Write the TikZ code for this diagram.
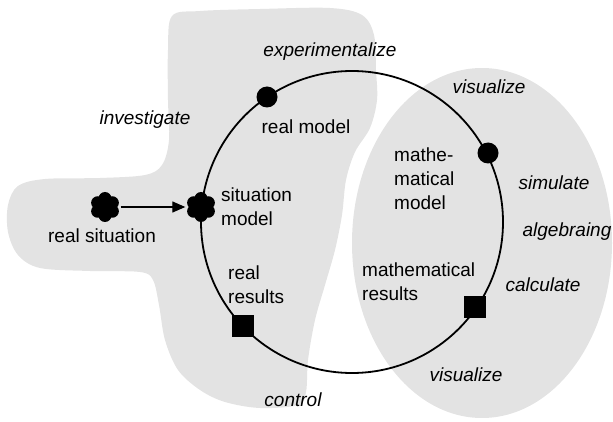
\documentclass[tikz,border=0pt]{standalone}
\usepackage{fontspec}
\setmainfont{Liberation Sans}
\usetikzlibrary{arrows.meta}
\definecolor{blobgray}{gray}{0.89}

\begin{document}
\begin{tikzpicture}[x=1pt,y=-1pt,
  lbl/.style={font=\fontsize{19}{24}\selectfont,inner sep=0pt,align=left},
  act/.style={font=\fontsize{19}{24}\selectfont\itshape,inner sep=0pt},
  mdot/.style={circle,fill=black,minimum size=21pt,inner sep=0pt},
  msquare/.style={rectangle,fill=black,minimum size=22pt,inner sep=0pt},
  flower/.style={circle,minimum size=31pt,inner sep=0pt,
    path picture={\foreach \a in {30,90,...,330}
        \fill (path picture bounding box.center) ++(\a:8.5) circle (6.5);
      \fill (path picture bounding box.center) circle (9.5);}}]
  \useasboundingbox (0,0) rectangle (613,422);
  % grey areas
  \fill[blobgray] plot[smooth cycle,tension=0.55] coordinates {
    (172,16) (200,11) (260,9) (330,8) (362,15) (374,35) (376,70) (377,100)
    (370,128) (355,152) (346,180) (342,215) (335,250) (325,285) (315,320)
    (308,360) (306,392) (298,405) (260,408) (225,402) (200,390) (178,370)
    (165,340) (159,305) (153,280) (140,272) (90,271) (40,268) (18,255)
    (8,232) (8,205) (18,186) (45,179) (100,178) (145,175) (162,165)
    (169,140) (168,100) (168,50)};
  \fill[blobgray] (482,243) ellipse [x radius=130,y radius=175];
  % the cycle
  \draw[line width=1.8pt] (352,222) circle [radius=151];
  \node[flower] (realsit) at (105,207) {};
  \node[flower] (sitmodel) at (201,207) {};
  \node[mdot] (realmodel) at (267,97) {};
  \node[mdot] (mathmodel) at (488,153) {};
  \node[msquare] (mathres) at (475,307) {};
  \node[msquare] (realres) at (243,326) {};
  \draw[line width=1.3pt,-{Triangle[length=13pt,width=11pt]}] (realsit) -- (sitmodel);
  % labels
  \node[lbl] (realsitlbl) at (102,236) {real situation};
  \node[lbl,anchor=west] (sitmodellbl) at (221,206.5) {situation\\model};
  \node[lbl] (realmodellbl) at (306,127) {real model};
  \node[lbl,anchor=west] (mathmodellbl) at (394,179) {mathe-\\matical\\model};
  \node[lbl,anchor=west] (mathreslbl) at (362,282) {mathematical\\results};
  \node[lbl,anchor=west] (realreslbl) at (228,285) {real\\results};
  % activities
  \node[act] (investigate) at (145,120) {investigate};
  \node[act] (experimentalize) at (330,52) {experimentalize};
  \node[act] (visualizetop) at (489,87) {visualize};
  \node[act] (simulate) at (554,183) {simulate};
  \node[act] (algebraing) at (567,232) {algebraing};
  \node[act] (calculate) at (543,285) {calculate};
  \node[act] (visualizebot) at (466,375) {visualize};
  \node[act] (control) at (293,400) {control};
\end{tikzpicture}
\end{document}
